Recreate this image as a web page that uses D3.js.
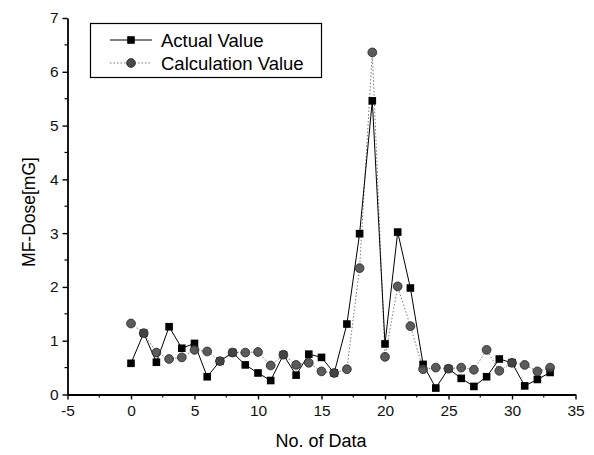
<!DOCTYPE html>
<html>
<head>
<meta charset="utf-8">
<script src="https://cdn.jsdelivr.net/npm/d3@7"></script>
<style>
  body { margin: 0; background: #fff; }
  svg { font-family: Arial, "Liberation Sans", sans-serif; }
</style>
</head>
<body>
<div id="chart"></div>
<script>
// No. of Data
const index = d3.range(0, 34);
// Actual Value (mG)
const actual = [0.58, 1.14, 0.60, 1.26, 0.86, 0.95, 0.33, 0.62, 0.78, 0.55,
  0.40, 0.26, 0.74, 0.36, 0.75, 0.69, 0.40, 1.31, 2.99, 5.46,
  0.94, 3.02, 1.98, 0.56, 0.12, 0.48, 0.30, 0.15, 0.33, 0.66,
  0.59, 0.16, 0.28, 0.41];
// Calculation Value (mG)
const calc = [1.32, 1.14, 0.78, 0.66, 0.69, 0.83, 0.80, 0.62, 0.78, 0.78,
  0.79, 0.54, 0.74, 0.55, 0.59, 0.43, 0.40, 0.47, 2.35, 6.36,
  0.70, 2.01, 1.27, 0.47, 0.50, 0.48, 0.50, 0.46, 0.83, 0.44,
  0.59, 0.55, 0.43, 0.50];
const xTicks = [-5, 0, 5, 10, 15, 20, 25, 30, 35];
const yTicks = [0, 1, 2, 3, 4, 5, 6, 7];
const legendLabels = ['Actual Value', 'Calculation Value'];

const w = 594, h = 455;

const svg = d3.select('#chart').append('svg')
  .attr('width', w)
  .attr('height', h);

/* scales */
const xScale = d3.scaleLinear().domain([-5, 35]).range([67.5, 575.5]);
const yScale = d3.scaleLinear().domain([0, 7]).range([394.5, 18]);

/* minor ticks */
const xMinor = d3.range(-2.5, 35, 5);
const yMinor = d3.range(0.5, 7, 1);

svg.append('g')
  .selectAll('line')
  .data(xMinor)
  .join('line')
  .attr('x1', d => xScale(d)).attr('x2', d => xScale(d))
  .attr('y1', yScale(0)).attr('y2', yScale(0) + 3)
  .attr('stroke', '#000').attr('stroke-width', 1.2);

svg.append('g')
  .selectAll('line')
  .data(yMinor)
  .join('line')
  .attr('y1', d => yScale(d)).attr('y2', d => yScale(d))
  .attr('x1', xScale(-5)).attr('x2', xScale(-5) - 3)
  .attr('stroke', '#000').attr('stroke-width', 1.2);

/* axes */
const xAxis = d3.axisBottom(xScale).tickValues(xTicks).tickFormat(d => String(d))
  .tickSize(5).tickSizeOuter(0).tickPadding(5);
const yAxis = d3.axisLeft(yScale).tickValues(yTicks).tickFormat(d => String(d))
  .tickSize(5).tickSizeOuter(0).tickPadding(4);

const gx = svg.append('g')
  .attr('transform', `translate(0,${yScale(0)})`)
  .call(xAxis);
const gy = svg.append('g')
  .attr('transform', `translate(${xScale(-5)},0)`)
  .call(yAxis);

[gx, gy].forEach(g => {
  g.select('.domain').attr('stroke-width', 1.8);
  g.selectAll('.tick line').attr('stroke-width', 1.4);
  g.selectAll('.tick text').attr('font-size', 15.5).attr('fill', '#111')
    .attr('font-family', 'Arial, "Liberation Sans", sans-serif');
});

/* axis titles */
svg.append('text')
  .attr('x', 321).attr('y', 447)
  .attr('text-anchor', 'middle')
  .attr('font-size', 18)
  .text('No. of Data');

svg.append('text')
  .attr('transform', 'translate(35,212) rotate(-90)')
  .attr('text-anchor', 'middle')
  .attr('font-size', 17.5)
  .text('MF-Dose[mG]');

/* lines */
const line = d3.line().x(d => xScale(d[0])).y(d => yScale(d[1]));
const actualPts = index.map((d, i) => [d, actual[i]]);
const calcPts = index.map((d, i) => [d, calc[i]]);

svg.append('path')
  .datum(calcPts)
  .attr('d', line)
  .attr('fill', 'none')
  .attr('stroke', '#777')
  .attr('stroke-width', 1)
  .attr('stroke-dasharray', '1.5,2');

svg.append('path')
  .datum(actualPts)
  .attr('d', line)
  .attr('fill', 'none')
  .attr('stroke', '#000')
  .attr('stroke-width', 1);

/* markers */
svg.append('g')
  .selectAll('rect')
  .data(actualPts)
  .join('rect')
  .attr('x', d => xScale(d[0]) - 3.8)
  .attr('y', d => yScale(d[1]) - 3.8)
  .attr('width', 7.6).attr('height', 7.6)
  .attr('fill', '#000');

svg.append('g')
  .selectAll('circle')
  .data(calcPts)
  .join('circle')
  .attr('cx', d => xScale(d[0]))
  .attr('cy', d => yScale(d[1]))
  .attr('r', 4.4)
  .attr('fill', '#4a4a4a')
  .attr('fill-opacity', 0.9)
  .attr('stroke', '#222')
  .attr('stroke-width', 0.8);

/* legend */
const legend = svg.append('g');
legend.append('rect')
  .attr('x', 90.5).attr('y', 23.5)
  .attr('width', 231).attr('height', 54)
  .attr('fill', '#fff')
  .attr('stroke', '#000')
  .attr('stroke-width', 1.2);

const rows = [40, 63];
legend.append('line')
  .attr('x1', 110).attr('x2', 152).attr('y1', rows[0]).attr('y2', rows[0])
  .attr('stroke', '#000').attr('stroke-width', 1);
legend.append('rect')
  .attr('x', 131 - 3.8).attr('y', rows[0] - 3.8)
  .attr('width', 7.6).attr('height', 7.6).attr('fill', '#000');
legend.append('line')
  .attr('x1', 110).attr('x2', 152).attr('y1', rows[1]).attr('y2', rows[1])
  .attr('stroke', '#777').attr('stroke-width', 1).attr('stroke-dasharray', '1.5,2');
legend.append('circle')
  .attr('cx', 131).attr('cy', rows[1]).attr('r', 4.4)
  .attr('fill', '#4a4a4a').attr('stroke', '#222').attr('stroke-width', 0.8);

legend.selectAll('.legend-text')
  .data(legendLabels)
  .join('text')
  .attr('class', 'legend-text')
  .attr('x', 161)
  .attr('y', (d, i) => rows[i] + 6.5)
  .attr('font-size', 18.5)
  .text(d => d);
</script>
</body>
</html>
